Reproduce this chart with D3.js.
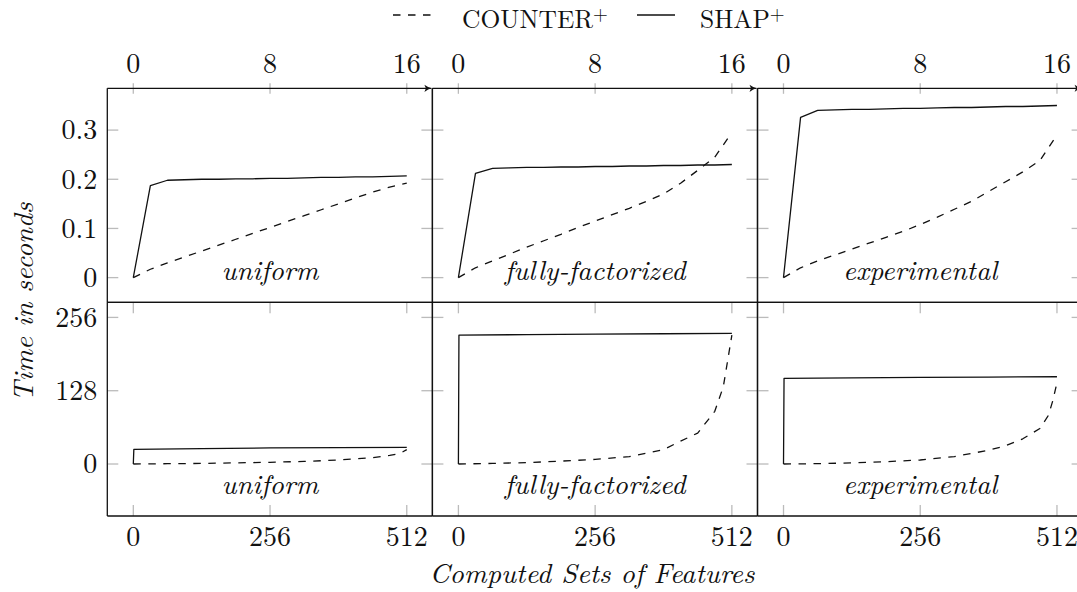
<!DOCTYPE html>
<html lang="en">
<head>
<meta charset="UTF-8">
<title>COUNTER+ vs SHAP+ - Time per Computed Sets of Features</title>
<script src="https://d3js.org/d3.v7.min.js"></script>
<style>
  body { margin: 0; background: #fff; }
  .frame { stroke: #111; stroke-width: 1.3; fill: none; }
  .tick { stroke: #bbb; stroke-width: 1.3; }
  .series { fill: none; stroke: #111; stroke-width: 1.3; stroke-linejoin: round; }
  .dashed { stroke-dasharray: 7.5 7.5; }
</style>
</head>
<body>
<div id="chart"></div>
<script>
  // panel names (one column each)
  const distributions = ["uniform", "fully-factorized", "experimental"];

  // top row: 0..16 features
  const smallX = [0, 1, 2, 3, 4, 5, 6, 7, 8, 9, 10, 11, 12, 13, 14, 15, 16];
  const smallCounterUniform = [0, 0.017, 0.03, 0.042, 0.054, 0.066, 0.078, 0.09, 0.102, 0.114, 0.126, 0.138, 0.15, 0.162, 0.174, 0.184, 0.192];
  const smallCounterFactorized = [0, 0.02, 0.034, 0.048, 0.062, 0.075, 0.088, 0.102, 0.115, 0.128, 0.141, 0.155, 0.17, 0.192, 0.218, 0.245, 0.295];
  const smallCounterExperimental = [0, 0.02, 0.034, 0.046, 0.058, 0.07, 0.082, 0.094, 0.108, 0.123, 0.139, 0.155, 0.175, 0.195, 0.215, 0.238, 0.29];
  const smallShapUniform = [0, 0.187, 0.198, 0.199, 0.2, 0.2, 0.201, 0.201, 0.202, 0.202, 0.203, 0.204, 0.204, 0.205, 0.205, 0.206, 0.207];
  const smallShapFactorized = [0, 0.212, 0.222, 0.223, 0.224, 0.224, 0.225, 0.225, 0.226, 0.226, 0.227, 0.227, 0.228, 0.228, 0.229, 0.229, 0.23];
  const smallShapExperimental = [0, 0.326, 0.34, 0.341, 0.342, 0.342, 0.343, 0.344, 0.344, 0.345, 0.346, 0.346, 0.347, 0.348, 0.348, 0.349, 0.35];

  // bottom row: up to 512 features
  const largeCounterX = [0, 64, 128, 192, 256, 320, 384, 416, 448, 480, 496, 504, 512];
  const largeCounterUniform = [0, 0.5, 1, 2, 3, 4.5, 7, 9, 11, 15, 18, 21, 25];
  const largeCounterFactorized = [0, 1, 2.5, 5, 8, 13, 25, 40, 54, 92, 135, 180, 225];
  const largeCounterExperimental = [0, 0.6, 2, 4, 7, 13, 24, 32, 44, 62, 85, 110, 142];
  const largeShapX = [0, 1, 128, 256, 384, 512];
  const largeShapUniform = [0, 25.6, 27, 28, 28.5, 29.1];
  const largeShapFactorized = [0, 225, 226, 226.8, 227.5, 228.2];
  const largeShapExperimental = [0, 149.6, 150.5, 151.2, 151.8, 152.4];

  const smallTicks = [0, 8, 16];
  const largeTicks = [0, 256, 512];
  const smallTimeTicks = [0, 0.1, 0.2, 0.3];
  const largeTimeTicks = [0, 128, 256];

  const legendItems = [
    { name: "COUNTER", dashed: true },
    { name: "SHAP", dashed: false }
  ];

  // layout
  const svgWidth = 1077, svgHeight = 592;
  const left = 107.3, panelW = 325.1;
  const rowTop = [88.3, 302.3];
  const rowH = [214, 213.7];
  const tickLen = 11;
  const font = '"Latin Modern Roman", "Liberation Serif", serif';

  const rows = [
    {
      xs: { counter: smallX, shap: smallX },
      counter: [smallCounterUniform, smallCounterFactorized, smallCounterExperimental],
      shap: [smallShapUniform, smallShapFactorized, smallShapExperimental],
      xDomain: [-1.52, 17.5], yDomain: [-0.0502, 0.385],
      xTicks: smallTicks, yTicks: smallTimeTicks
    },
    {
      xs: { counter: largeCounterX, shap: largeShapX },
      counter: [largeCounterUniform, largeCounterFactorized, largeCounterExperimental],
      shap: [largeShapUniform, largeShapFactorized, largeShapExperimental],
      xDomain: [-48.7, 560], yDomain: [-90.8, 282.4],
      xTicks: largeTicks, yTicks: largeTimeTicks
    }
  ];

  const svg = d3.select("#chart").append("svg")
    .attr("width", svgWidth)
    .attr("height", svgHeight);

  // small helper so every label gets the same font
  function label(sel, size, italic) {
    return sel.append("text")
      .style("font-family", font)
      .style("font-size", size + "px")
      .style("font-style", italic ? "italic" : "normal")
      .style("fill", "#111");
  }

  svg.append("defs").append("marker")
    .attr("id", "arrow")
    .attr("markerUnits", "userSpaceOnUse")
    .attr("markerWidth", 12).attr("markerHeight", 12)
    .attr("viewBox", "-10 -6 12 12")
    .attr("refX", 0).attr("refY", 0)
    .attr("orient", "auto")
    .append("path")
    .attr("d", "M-7,-3.6 Q-3,-0.8 0,0 Q-3,0.8 -7,3.6 L-5.5,0 Z")
    .attr("fill", "#111");

  rows.forEach((row, r) => {
    const h = rowH[r];
    const x = d3.scaleLinear().domain(row.xDomain).range([0, panelW]);
    const y = d3.scaleLinear().domain(row.yDomain).range([h, 0]);

    distributions.forEach((dist, c) => {
      const g = svg.append("g")
        .attr("transform", `translate(${left + c * panelW},${rowTop[r]})`);

      // grey ticks
      row.yTicks.forEach(t => {
        g.append("line").attr("class", "tick")
          .attr("x1", 0).attr("x2", tickLen).attr("y1", y(t)).attr("y2", y(t));
        g.append("line").attr("class", "tick")
          .attr("x1", panelW - tickLen).attr("x2", panelW).attr("y1", y(t)).attr("y2", y(t));
      });
      row.xTicks.forEach(t => {
        if (r === 0) {
          g.append("line").attr("class", "tick")
            .attr("x1", x(t)).attr("x2", x(t)).attr("y1", -5).attr("y2", 5.5);
        } else {
          g.append("line").attr("class", "tick")
            .attr("x1", x(t)).attr("x2", x(t)).attr("y1", 0).attr("y2", tickLen);
          g.append("line").attr("class", "tick")
            .attr("x1", x(t)).attr("x2", x(t)).attr("y1", h - tickLen).attr("y2", h);
        }
      });

      // series
      const lineOf = xs => d3.line().x((d, i) => x(xs[i])).y(d => y(d));
      g.append("path").attr("class", "series dashed")
        .datum(row.counter[c])
        .attr("d", lineOf(row.xs.counter));
      g.append("path").attr("class", "series")
        .datum(row.shap[c])
        .attr("d", lineOf(row.xs.shap));

      // frame
      g.append("line").attr("class", "frame")
        .attr("x1", 0).attr("x2", 0).attr("y1", 0).attr("y2", h);
      g.append("line").attr("class", "frame")
        .attr("x1", panelW).attr("x2", panelW).attr("y1", 0).attr("y2", h);
      g.append("line").attr("class", "frame")
        .attr("x1", 0).attr("x2", panelW).attr("y1", h).attr("y2", h);
      if (r === 0) {
        g.append("line").attr("class", "frame")
          .attr("x1", 0).attr("x2", panelW - 1).attr("y1", 0).attr("y2", 0)
          .attr("marker-end", "url(#arrow)");
      } else {
        g.append("line").attr("class", "frame")
          .attr("x1", 0).attr("x2", panelW).attr("y1", 0).attr("y2", 0);
      }

      // x tick labels
      row.xTicks.forEach(t => {
        label(g, 28, false)
          .attr("x", x(t))
          .attr("y", r === 0 ? -15.3 : h + 30.5)
          .attr("text-anchor", "middle")
          .text(t);
      });

      // y tick labels (first column only)
      if (c === 0) {
        row.yTicks.forEach(t => {
          label(g, 28, false)
            .attr("x", -10)
            .attr("y", y(t) + 9.3)
            .attr("text-anchor", "end")
            .text(t);
        });
      }

      label(g, 28, true)
        .attr("x", x(row.xTicks[1]))
        .attr("y", 192.2)
        .attr("text-anchor", "middle")
        .text(dist);
    });
  });

  // legend
  const legendLines = [[393, 433], [637, 675]];
  const legendTextX = [462, 700];
  legendItems.forEach((item, i) => {
    svg.append("line")
      .attr("class", item.dashed ? "series dashed" : "series")
      .attr("x1", legendLines[i][0]).attr("x2", legendLines[i][1])
      .attr("y1", 15).attr("y2", 15);
    const t = label(svg, 25.5, false)
      .attr("x", legendTextX[i]).attr("y", 28.3);
    t.append("tspan").text(item.name);
    t.append("tspan").attr("dy", -8.5).style("font-size", "19px").text("+");
  });

  // axis titles
  label(svg, 28, true)
    .attr("transform", "translate(33,302) rotate(-90)")
    .attr("text-anchor", "middle")
    .text("Time in seconds");

  label(svg, 28, true)
    .attr("x", 592).attr("y", 583)
    .attr("text-anchor", "middle")
    .text("Computed Sets of Features");
</script>
</body>
</html>
